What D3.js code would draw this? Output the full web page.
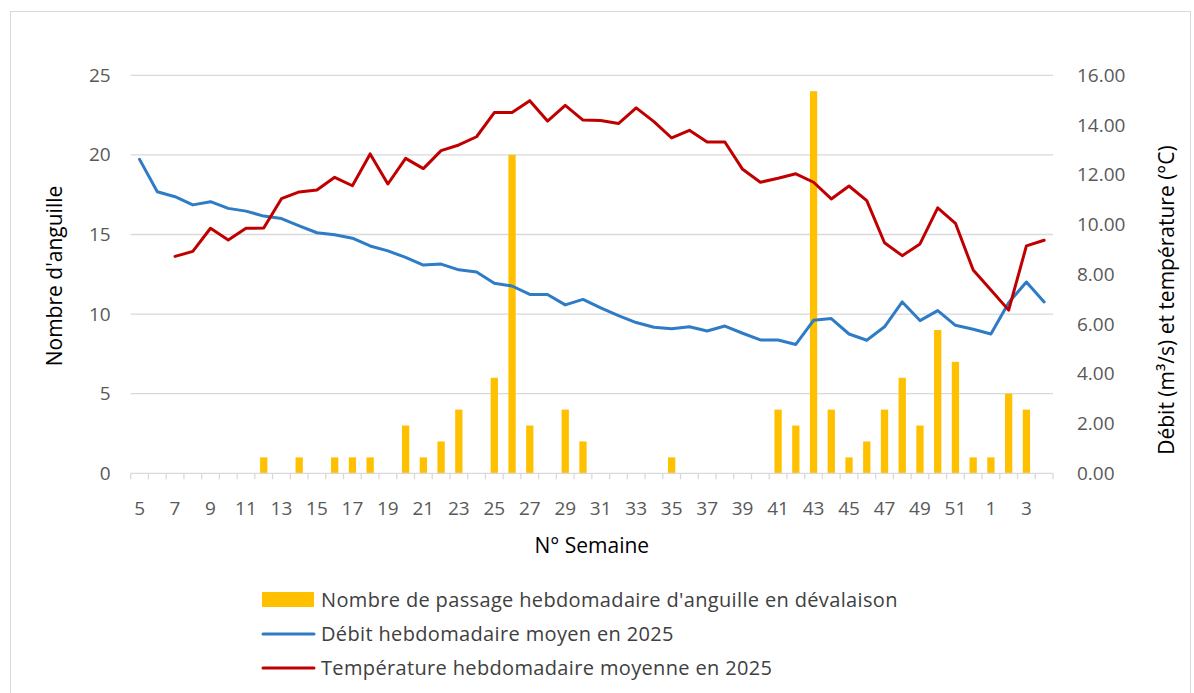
<!DOCTYPE html>
<html><head><meta charset="utf-8">
<script src="https://cdn.jsdelivr.net/npm/d3@7"></script>
<style>body{margin:0;background:#fff;}svg{display:block;font-family:"Open Sans","Noto Sans",sans-serif;}</style>
</head><body><svg id="c" width="1194" height="693"></svg>
<script>
const weeks = [5,6,7,8,9,10,11,12,13,14,15,16,17,18,19,20,21,22,23,24,25,26,27,28,29,30,31,32,33,34,35,36,37,38,39,40,41,42,43,44,45,46,47,48,49,50,51,52,1,2,3,4];
const anguilles = [0,0,0,0,0,0,0,1,0,1,0,1,1,1,0,3,1,2,4,0,6,20,3,0,4,2,0,0,0,0,1,0,0,0,0,0,4,3,24,4,1,2,4,6,3,9,7,1,1,5,4,0];
const debit = [12.62,11.32,11.12,10.79,10.92,10.65,10.54,10.34,10.24,9.95,9.67,9.59,9.45,9.14,8.94,8.68,8.37,8.41,8.18,8.09,7.64,7.53,7.19,7.19,6.77,6.99,6.65,6.34,6.06,5.87,5.81,5.89,5.72,5.92,5.63,5.36,5.36,5.18,6.15,6.22,5.60,5.35,5.89,6.89,6.14,6.54,5.95,5.79,5.60,6.86,7.69,6.89];
const temperature = [null,null,8.72,8.92,9.85,9.38,9.85,9.86,11.04,11.31,11.39,11.90,11.56,12.84,11.63,12.66,12.25,12.97,13.2,13.53,14.50,14.50,14.98,14.16,14.79,14.20,14.18,14.06,14.69,14.14,13.48,13.79,13.32,13.32,12.22,11.70,11.86,12.04,11.70,11.03,11.55,10.96,9.27,8.75,9.22,10.67,10.05,8.17,7.37,6.56,9.14,9.37];
const leftTicks = [0,5,10,15,20,25];
const rightTicks = [0,2,4,6,8,10,12,14,16];
const legendLabels = ["Nombre de passage hebdomadaire d'anguille en dévalaison","Débit hebdomadaire moyen en 2025","Température hebdomadaire moyenne en 2025"];

const svg = d3.select("#c");
const L = 130.7, R = 1053, T = 75.3, B = 473.3;
const idx = weeks.map((d,i)=>i);
const x = d3.scaleBand().domain(idx).range([L,R]).paddingInner(0.59).paddingOuter(0.295);
const xc = i => x(i) + x.bandwidth()/2;
const yL = d3.scaleLinear().domain([0,25]).range([B,T]);
const yR = d3.scaleLinear().domain([0,16]).range([B,T]);

svg.append("rect").attr("x",10.5).attr("y",11.5).attr("width",1180).attr("height",690).attr("fill","#fff").attr("stroke","#d9d9d9");

// gridlines
svg.append("g").selectAll("line").data(leftTicks.filter(d=>d>0)).join("line")
  .attr("x1",L).attr("x2",R).attr("y1",d=>yL(d)).attr("y2",d=>yL(d))
  .attr("stroke","#d9d9d9").attr("stroke-width",1.3);

// left axis labels
const gl = svg.append("g").attr("transform",`translate(${L-20},0)`)
  .call(d3.axisLeft(yL).tickValues(leftTicks).tickSize(0).tickPadding(0).tickFormat(d3.format("d")));
gl.select(".domain").remove();
gl.selectAll("text").attr("font-size",19).attr("fill","#595959").attr("font-family","Open Sans");

const gr = svg.append("g").attr("transform",`translate(${R+24},0)`)
  .call(d3.axisRight(yR).tickValues(rightTicks).tickSize(0).tickPadding(0).tickFormat(d3.format(".2f")));
gr.select(".domain").remove();
gr.selectAll("text").attr("font-size",19).attr("fill","#595959").attr("font-family","Open Sans");

// bars
svg.append("g").selectAll("rect").data(anguilles).join("rect")
  .attr("x",(d,i)=>x(i)).attr("width",x.bandwidth())
  .attr("y",d=>yL(d)).attr("height",d=>B-yL(d)).attr("fill","#FFC000");

// x axis baseline + ticks
svg.append("line").attr("x1",L).attr("x2",R).attr("y1",B).attr("y2",B).attr("stroke","#d9d9d9").attr("stroke-width",1.3);
const step = x.step();
svg.append("g").selectAll("line").data(d3.range(weeks.length+1)).join("line")
  .attr("x1",d=>L+d*step).attr("x2",d=>L+d*step).attr("y1",B).attr("y2",B+6)
  .attr("stroke","#d9d9d9").attr("stroke-width",1.3);
svg.append("g").selectAll("text").data(idx.filter(i=>i%2===0)).join("text")
  .attr("x",i=>xc(i)).attr("y",B+42).attr("text-anchor","middle")
  .attr("font-size",19).attr("fill","#595959").text(i=>weeks[i]);

// lines
const lineD = d3.line().defined(d=>d!=null).x((d,i)=>xc(i)).y(d=>yR(d));
svg.append("path").datum(debit).attr("d",lineD).attr("fill","none").attr("stroke","#2E7BC6").attr("stroke-width",3).attr("stroke-linejoin","round").attr("stroke-linecap","round");
svg.append("path").datum(temperature).attr("d",lineD).attr("fill","none").attr("stroke","#C00000").attr("stroke-width",3).attr("stroke-linejoin","round").attr("stroke-linecap","round");

// axis titles
svg.append("text").attr("x",(L+R)/2).attr("y",553).attr("text-anchor","middle").attr("font-size",21).attr("fill","#000").text("N° Semaine");
svg.append("text").attr("transform","translate(62,276) rotate(-90)").attr("text-anchor","middle").attr("font-size",21).attr("fill","#000").text("Nombre d'anguille");
svg.append("text").attr("transform","translate(1174,300) rotate(-90)").attr("text-anchor","middle").attr("font-size",21).attr("fill","#000").text("Débit (m³/s) et température (°C)");

// legend
const lg = svg.append("g");
const ly = [600,634,668];
lg.append("rect").attr("x",262).attr("y",ly[0]-8).attr("width",52).attr("height",15).attr("fill","#FFC000");
lg.append("line").attr("x1",263).attr("x2",314).attr("y1",ly[1]).attr("y2",ly[1]).attr("stroke","#2E7BC6").attr("stroke-width",3).attr("stroke-linecap","round");
lg.append("line").attr("x1",263).attr("x2",314).attr("y1",ly[2]).attr("y2",ly[2]).attr("stroke","#C00000").attr("stroke-width",3).attr("stroke-linecap","round");
lg.selectAll("text").data(legendLabels).join("text")
  .attr("x",321).attr("y",(d,i)=>ly[i]+7).attr("font-size",20).attr("letter-spacing",0.35).attr("fill","#404040").text(d=>d);
</script></body></html>
